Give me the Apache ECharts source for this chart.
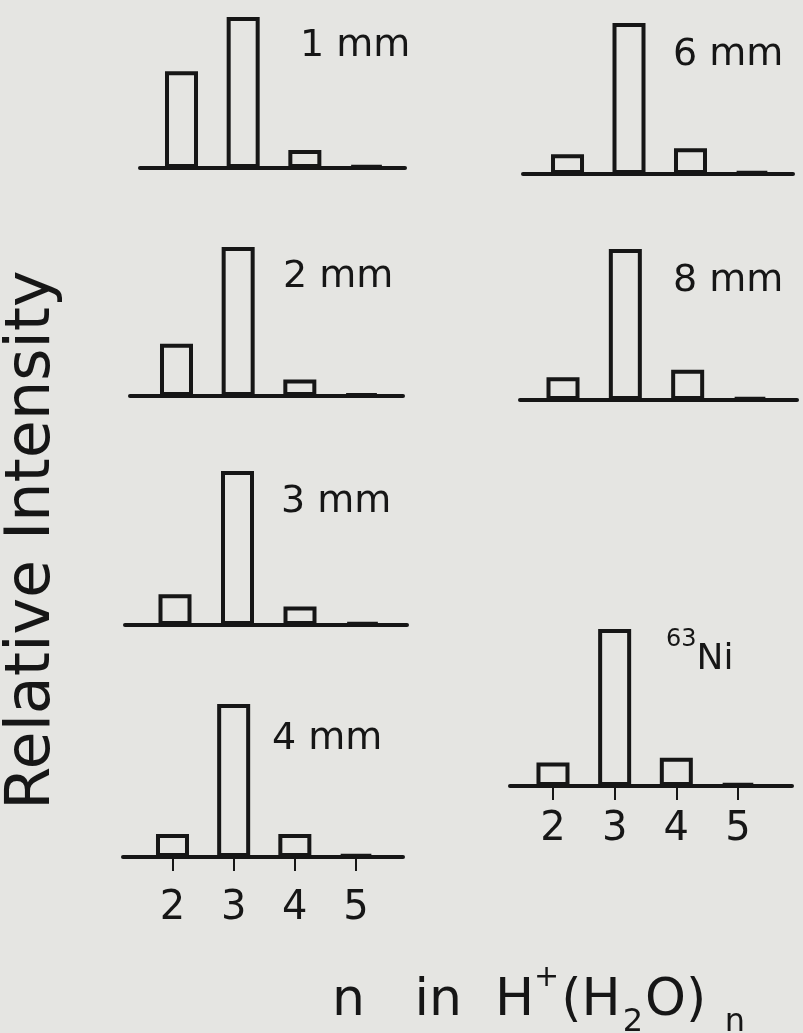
<!DOCTYPE html>
<html><head><meta charset="utf-8">
<script src="https://cdn.jsdelivr.net/npm/echarts@6/dist/echarts.min.js"></script>
<style>html,body{margin:0;padding:0;background:#e5e5e2;} #c{width:803px;height:1033px;}</style>
</head><body><div id="c"></div>
<script>
// ---- data ----
const clusterSizes = [2, 3, 4, 5];
const tickLabels = ['2', '3', '4', '5'];
const panelLabels = ['1 mm', '2 mm', '3 mm', '4 mm', '6 mm', '8 mm', '63Ni'];
const int1mm = [64, 100, 12, 1.5];
const int2mm = [35, 100, 11, 1.5];
const int3mm = [20, 100, 12, 1.5];
const int4mm = [15, 100, 15, 1.5];
const int6mm = [13, 100, 17, 1.5];
const int8mm = [15, 100, 20, 1.5];
const intNi  = [15, 100, 18, 1.5];
const yTitle = 'Relative Intensity';

const panelValues = [int1mm, int2mm, int3mm, int4mm, int6mm, int8mm, intNi];

// ---- layout (positions only) ----
const layout = [
  {left:140, right:405, top:17,  base:168, min:1.327, max:5.624},
  {left:130, right:403, top:247, base:396, min:1.246, max:5.673},
  {left:125, right:407, top:471, base:625, min:1.2,   max:5.712},
  {left:123, right:403, top:704, base:857, min:1.191, max:5.768, ticks:true, margin:32},
  {left:523, right:793, top:23,  base:174, min:1.276, max:5.667},
  {left:520, right:797, top:249, base:400, min:1.31,  max:5.754},
  {left:510, right:792, top:629, base:786, min:1.303, max:5.876, ticks:true, margin:24}
];
const labelPos = [[300,46],[283,277],[281,502],[272,739],[673,55],[673,281],[666,660]];

const INK = '#161616';
const FONT = 'DejaVu Sans';

const grids = [], xAxes = [], yAxes = [], series = [], graphics = [];
layout.forEach((L, i) => {
  grids.push({left: L.left, top: L.top, width: L.right - L.left, height: L.base - L.top, containLabel: false});
  xAxes.push({
    type: 'value', gridIndex: i, min: L.min, max: L.max,
    axisLine: {show: true, lineStyle: {color: INK, width: 4}},
    axisTick: {show: !!L.ticks, customValues: clusterSizes, length: 14, lineStyle: {color: INK, width: 2}},
    axisLabel: {show: !!L.ticks, customValues: clusterSizes, margin: L.margin || 20,
      fontSize: 40, fontFamily: FONT, color: INK,
      formatter: v => tickLabels[clusterSizes.indexOf(Math.round(v))]},
    splitLine: {show: false}
  });
  yAxes.push({type: 'value', gridIndex: i, min: 0, max: 100, show: false, splitLine: {show: false}});
  series.push({
    type: 'bar', xAxisIndex: i, yAxisIndex: i, barWidth: 33,
    data: clusterSizes.map((n, k) => [n, panelValues[i][k]]),
    itemStyle: {color: 'rgba(0,0,0,0)', borderColor: INK, borderWidth: 4},
    silent: true
  });
});

panelLabels.forEach((t, i) => {
  if (t === '63Ni') {
    graphics.push({type: 'text', x: labelPos[i][0], y: labelPos[i][1], silent: true,
      style: {text: '{sup|63}{b|Ni}', align: 'left', verticalAlign: 'middle',
        rich: {
          sup: {fontSize: 24, fontFamily: FONT, fill: INK, color: INK, padding: [0, 0, 40, 0]},
          b: {fontSize: 36, fontFamily: FONT, fill: INK, color: INK}
        }}});
  } else {
    graphics.push({type: 'text', x: labelPos[i][0], y: labelPos[i][1], silent: true,
      style: {text: t, fontSize: 38, fontFamily: FONT, fill: INK, align: 'left', verticalAlign: 'middle'}});
  }
});

graphics.push({type: 'text', x: 33, y: 540, rotation: Math.PI / 2, silent: true,
  style: {text: yTitle, fontSize: 62, fontFamily: FONT, fill: INK, align: 'center', verticalAlign: 'middle'}});

graphics.push({type: 'text', x: 332, y: 1001, silent: true,
  style: {
    text: '{a|n   in  H}{sup|+}{a|(H}{sub|2}{a|O) }{sub|n}',
    align: 'left', verticalAlign: 'middle',
    rich: {
      a: {fontSize: 52, fontFamily: FONT, fill: INK, color: INK},
      sup: {fontSize: 30, fontFamily: FONT, fill: INK, color: INK, padding: [0, 2, 46, 0]},
      sub: {fontSize: 32, fontFamily: FONT, fill: INK, color: INK, padding: [44, 2, 0, 2]}
    }
  }});

const chart = echarts.init(document.getElementById('c'), null, {renderer: 'canvas'});
chart.setOption({
  backgroundColor: '#e5e5e2',
  animation: false,
  grid: grids, xAxis: xAxes, yAxis: yAxes, series: series,
  graphic: graphics
});
</script>
</body></html>
